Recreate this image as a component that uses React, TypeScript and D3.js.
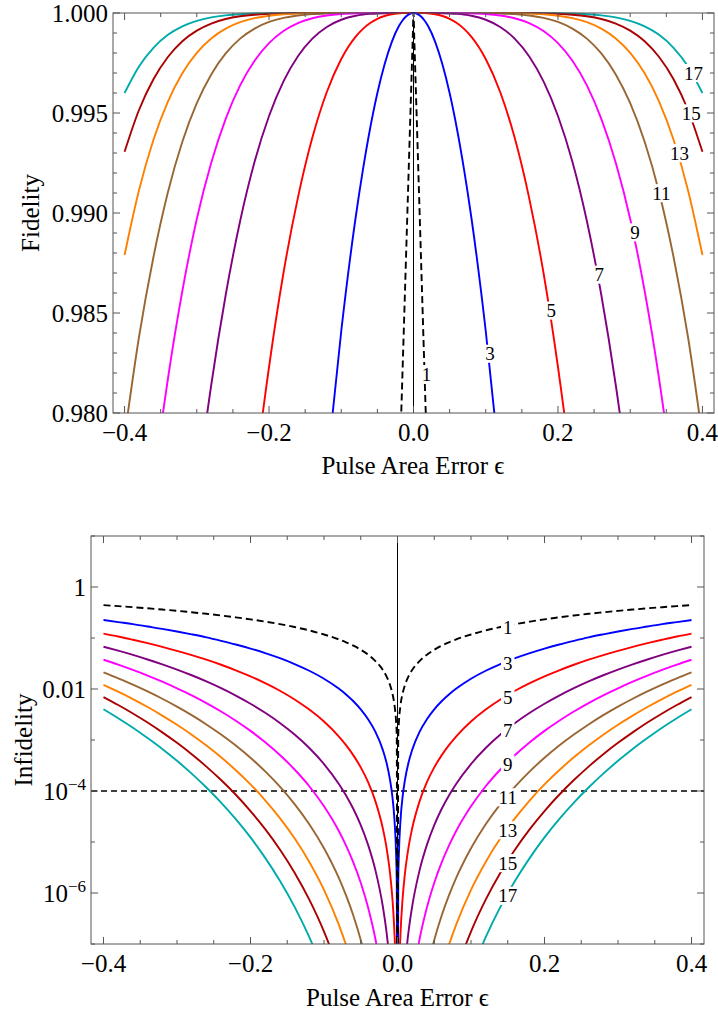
import React from 'react';
import * as d3 from 'd3';

// pulse area error grid (positive half, curves are symmetric in epsilon)
const epsilon = [0, 0.001, 0.002, 0.004, 0.007, 0.01, 0.015, 0.02, 0.03, 0.04, 0.05, 0.06, 0.07, 0.08,
  0.10, 0.12, 0.14, 0.16, 0.18, 0.20, 0.22, 0.24, 0.26, 0.28, 0.30, 0.32, 0.34, 0.36, 0.38, 0.40];

// infidelity 1 - F, one array per sequence length N
const infid1 = [0, 1.18e-3, 2.36e-3, 4.71e-3, 8.25e-3, 1.18e-2, 1.77e-2, 2.36e-2, 3.53e-2, 4.71e-2, 5.88e-2, 7.06e-2, 8.23e-2, 9.40e-2,
  0.117, 0.141, 0.164, 0.187, 0.209, 0.232, 0.254, 0.276, 0.298, 0.319, 0.341, 0.361, 0.382, 0.402, 0.422, 0.441];
const infid3 = [0, 1.60e-6, 6.42e-6, 2.57e-5, 7.86e-5, 1.60e-4, 3.61e-4, 6.41e-4, 1.44e-3, 2.56e-3, 4.00e-3, 5.76e-3, 7.83e-3, 1.02e-2,
  1.59e-2, 2.28e-2, 3.09e-2, 4.02e-2, 5.06e-2, 6.21e-2, 7.46e-2, 8.81e-2, 0.103, 0.118, 0.134, 0.151, 0.168, 0.187, 0.205, 0.225];
const infid5 = [0, 2.3e-9, 1.86e-8, 1.49e-7, 7.98e-7, 2.33e-6, 7.85e-6, 1.86e-5, 6.27e-5, 1.49e-4, 2.90e-4, 5.00e-4, 7.93e-4, 1.18e-3,
  2.30e-3, 3.95e-3, 6.23e-3, 9.23e-3, 1.30e-2, 1.77e-2, 2.33e-2, 2.99e-2, 3.76e-2, 4.63e-2, 5.61e-2, 6.71e-2, 7.91e-2, 9.23e-2, 0.107, 0.122];
const infid7 = [0, 3.4e-12, 5.5e-11, 8.8e-10, 8.3e-9, 3.44e-8, 1.74e-7, 5.50e-7, 2.78e-6, 8.78e-6, 2.14e-5, 4.43e-5, 8.19e-5, 1.39e-4,
  3.38e-4, 6.97e-4, 1.28e-3, 2.16e-3, 3.42e-3, 5.15e-3, 7.44e-3, 1.04e-2, 1.41e-2, 1.86e-2, 2.40e-2, 3.04e-2, 3.79e-2, 4.66e-2, 5.64e-2, 6.74e-2];
const infid9 = [0, 5.1e-15, 1.6e-13, 5.2e-12, 8.6e-11, 5.1e-10, 3.9e-9, 1.64e-8, 1.24e-7, 5.22e-7, 1.59e-6, 3.95e-6, 8.51e-6, 1.66e-5,
  5.01e-5, 1.24e-4, 2.64e-4, 5.09e-4, 9.04e-4, 1.51e-3, 2.39e-3, 3.62e-3, 5.29e-3, 7.49e-3, 1.03e-2, 1.39e-2, 1.83e-2, 2.36e-2, 3.00e-2, 3.75e-2];
const infid11 = [0, 7.7e-18, 5.0e-16, 3.2e-14, 9.1e-13, 7.7e-12, 8.8e-11, 4.9e-10, 5.63e-9, 3.16e-8, 1.20e-7, 3.58e-7, 8.99e-7, 2.00e-6,
  7.55e-6, 2.23e-5, 5.55e-5, 1.22e-4, 2.43e-4, 4.48e-4, 7.78e-4, 1.28e-3, 2.02e-3, 3.07e-3, 4.51e-3, 6.44e-3, 8.96e-3, 1.22e-2, 1.62e-2, 2.12e-2];
const infid13 = [0, 1.2e-20, 1.5e-18, 1.9e-16, 9.7e-15, 1.2e-13, 2.0e-12, 1.5e-11, 2.57e-10, 1.92e-9, 9.15e-9, 3.27e-8, 9.58e-8, 2.43e-7,
  1.15e-6, 4.06e-6, 1.18e-5, 2.94e-5, 6.58e-5, 1.35e-4, 2.56e-4, 4.58e-4, 7.79e-4, 1.27e-3, 1.99e-3, 3.01e-3, 4.43e-3, 6.34e-3, 8.86e-3, 1.21e-2];
const infid15 = [0, 1.8e-23, 4.6e-21, 1.2e-18, 1.0e-16, 1.8e-15, 4.6e-14, 4.6e-13, 1.18e-11, 1.18e-10, 6.99e-10, 3.00e-9, 1.02e-8, 2.97e-8,
  1.75e-7, 7.40e-7, 2.50e-6, 7.13e-6, 1.79e-5, 4.05e-5, 8.44e-5, 1.64e-4, 3.01e-4, 5.26e-4, 8.79e-4, 1.41e-3, 2.20e-3, 3.31e-3, 4.85e-3, 6.94e-3];
const infid17 = [0, 2.8e-26, 1.4e-23, 7.3e-21, 1.1e-18, 2.8e-17, 1.1e-15, 1.4e-14, 5.5e-13, 7.2e-12, 5.37e-11, 2.76e-10, 1.10e-9, 3.64e-9,
  2.68e-8, 1.36e-7, 5.34e-7, 1.74e-6, 4.89e-6, 1.23e-5, 2.80e-5, 5.92e-5, 1.17e-4, 2.19e-4, 3.91e-4, 6.67e-4, 1.09e-3, 1.74e-3, 2.67e-3, 4.00e-3];

const pulseCounts = [1, 3, 5, 7, 9, 11, 13, 15, 17];
const infidelities = [infid1, infid3, infid5, infid7, infid9, infid11, infid13, infid15, infid17];
const curveColors = ['#000000', '#0000ff', '#ff0000', '#800080', '#ff00ff', '#996633', '#ff8000', '#aa0000', '#00aaaa'];

const xTickValues = [-0.4, -0.2, 0, 0.2, 0.4];
const xTickLabels = ['\u22120.4', '\u22120.2', '0.0', '0.2', '0.4'];
const fidTickValues = [0.98, 0.985, 0.99, 0.995, 1.0];
const fidTickLabels = ['0.980', '0.985', '0.990', '0.995', '1.000'];
const infTickExp = [0, -2, -4, -6];

// where the N labels sit along each curve (epsilon)
const topLabelEps = [0.0153, 0.1033, 0.188, 0.2545, 0.3037, 0.3403, 0.3653, 0.3816, 0.385];
const bottomLabelEps = 0.15;

const W = 718, H = 1016;
const FONT = '"Liberation Serif", "Times New Roman", serif';

// mirror the half curve to the negative side
const fullEps = [...epsilon.slice(1).reverse().map(e => -e), ...epsilon];
const mirror = (arr: number[]) => [...arr.slice(1).reverse(), ...arr];

const series = pulseCounts.map((n, i) => ({
  n,
  color: curveColors[i],
  points: fullEps.map((e, j) => ({ e, v: mirror(infidelities[i])[j] })),
}));

const interp = (xs: number[], ys: number[], x: number) => {
  const j = d3.bisectLeft(xs, x);
  if (j <= 0) return ys[0];
  if (j >= xs.length) return ys[ys.length - 1];
  const t = (x - xs[j - 1]) / (xs[j] - xs[j - 1]);
  return ys[j - 1] + t * (ys[j] - ys[j - 1]);
};

const App = () => {
  // ---- top panel: fidelity
  const tx = d3.scaleLinear().domain([-0.416, 0.416]).range([113, 714]);
  const ty = d3.scaleLinear().domain([0.98, 1.0]).range([413, 13]);
  // ---- bottom panel: infidelity (log)
  const bx = d3.scaleLinear().domain([-0.417, 0.417]).range([91, 704]);
  const by = d3.scaleLog().domain([1e-7, 10]).range([944, 536]);

  const topLine = d3.line<{ e: number; v: number }>()
    .x(d => tx(d.e)).y(d => ty(1 - d.v)).curve(d3.curveMonotoneX);
  const botLine = d3.line<{ e: number; v: number }>()
    .x(d => bx(d.e)).y(d => by(Math.max(d.v, 1e-12))).curve(d3.curveMonotoneX);

  const drawOrder = [...series].reverse();
  const minorX = d3.range(-0.4, 0.4001, 0.05);
  const minorFid = d3.range(0.98, 1.0001, 0.001);
  const decades = d3.range(-7, 2);

  const frame = '#555';
  const tickFont = 25;
  const labelFont = 19;

  const curveLabel = (key: string, x: number, y: number, text: string) => {
    const w = text.length * labelFont * 0.5 + 4;
    const h = labelFont * 0.95;
    return (
      <g key={key}>
        <rect x={x - w / 2} y={y - h / 2} width={w} height={h} fill="#fff" />
        <text x={x} y={y} dy="0.34em" textAnchor="middle" fontSize={labelFont} fontFamily={FONT} fill="#000">{text}</text>
      </g>
    );
  };

  return (
    <svg width={W} height={H} style={{ position: 'absolute', left: 0, top: 0, background: '#fff' }}>
      <defs>
        <clipPath id="clipTop"><rect x={113} y={10} width={601} height={403} /></clipPath>
        <clipPath id="clipBot"><rect x={91} y={536} width={613} height={408} /></clipPath>
      </defs>

      {/* ===== top panel ===== */}
      <g clipPath="url(#clipTop)">
        <line x1={tx(0)} x2={tx(0)} y1={13} y2={413} stroke="#000" strokeWidth={1} />
        {drawOrder.map(s => (
          <path key={'t' + s.n} d={topLine(s.points) || ''} fill="none" stroke={s.color}
            strokeWidth={s.n === 1 ? 1.9 : 1.9} strokeDasharray={s.n === 1 ? '7,4' : undefined} />
        ))}
      </g>
      {series.map((s, i) => {
        const e = topLabelEps[i];
        const v = interp(epsilon, infidelities[i], e);
        return curveLabel('tl' + s.n, tx(e) + 2, ty(1 - v), String(s.n));
      })}
      <rect x={113} y={13} width={601} height={400} fill="none" stroke={frame} strokeWidth={1} />
      {minorX.map(v => {
        const major = xTickValues.some(t => Math.abs(t - v) < 1e-6);
        const len = major ? 7 : 4;
        return (
          <g key={'tx' + v.toFixed(2)}>
            <line x1={tx(v)} x2={tx(v)} y1={413} y2={413 - len} stroke={frame} />
            <line x1={tx(v)} x2={tx(v)} y1={13} y2={13 + len} stroke={frame} />
          </g>
        );
      })}
      {minorFid.map(v => {
        const major = fidTickValues.some(t => Math.abs(t - v) < 1e-6);
        const len = major ? 7 : 4;
        return (
          <g key={'ty' + v.toFixed(3)}>
            <line x1={113} x2={113 + len} y1={ty(v)} y2={ty(v)} stroke={frame} />
            <line x1={714} x2={714 - len} y1={ty(v)} y2={ty(v)} stroke={frame} />
          </g>
        );
      })}
      {xTickValues.map((v, i) => (
        <text key={'txl' + i} x={tx(v)} y={441} textAnchor="middle" fontSize={tickFont} fontFamily={FONT}>{xTickLabels[i]}</text>
      ))}
      {fidTickValues.map((v, i) => (
        <text key={'tyl' + i} x={108} y={ty(v)} dy="0.34em" textAnchor="end" fontSize={tickFont} fontFamily={FONT}>{fidTickLabels[i]}</text>
      ))}
      <text x={413} y={474} textAnchor="middle" fontSize={tickFont} fontFamily={FONT}>Pulse Area Error ϵ</text>
      <text transform="translate(39,213) rotate(-90)" textAnchor="middle" fontSize={tickFont} fontFamily={FONT}>Fidelity</text>

      {/* ===== bottom panel ===== */}
      <g clipPath="url(#clipBot)">
        <line x1={bx(0)} x2={bx(0)} y1={536} y2={944} stroke="#000" strokeWidth={1} />
        <line x1={91} x2={704} y1={by(1e-4)} y2={by(1e-4)} stroke="#000" strokeWidth={1.3} strokeDasharray="6,4" />
        {drawOrder.map(s => (
          <path key={'b' + s.n} d={botLine(s.points) || ''} fill="none" stroke={s.color}
            strokeWidth={1.9} strokeDasharray={s.n === 1 ? '7,4' : undefined} />
        ))}
      </g>
      {series.map((s, i) => {
        const logs = infidelities[i].map(v => Math.log10(Math.max(v, 1e-30)));
        const lv = interp(epsilon, logs, bottomLabelEps);
        return curveLabel('bl' + s.n, bx(bottomLabelEps), by(Math.pow(10, lv)) + 2, String(s.n));
      })}
      <rect x={91} y={536} width={613} height={408} fill="none" stroke={frame} strokeWidth={1} />
      {minorX.map(v => {
        const major = xTickValues.some(t => Math.abs(t - v) < 1e-6);
        const len = major ? 7 : 4;
        return (
          <g key={'bx' + v.toFixed(2)}>
            <line x1={bx(v)} x2={bx(v)} y1={944} y2={944 - len} stroke={frame} />
            <line x1={bx(v)} x2={bx(v)} y1={536} y2={536 + len} stroke={frame} />
          </g>
        );
      })}
      {decades.map(p => {
        const major = infTickExp.includes(p);
        const len = major ? 7 : 4;
        const y = by(Math.pow(10, p));
        return (
          <g key={'by' + p}>
            <line x1={91} x2={91 + len} y1={y} y2={y} stroke={frame} />
            <line x1={704} x2={704 - len} y1={y} y2={y} stroke={frame} />
          </g>
        );
      })}
      {xTickValues.map((v, i) => (
        <text key={'bxl' + i} x={bx(v)} y={972} textAnchor="middle" fontSize={tickFont} fontFamily={FONT}>{xTickLabels[i]}</text>
      ))}
      {infTickExp.map(p => {
        const y = by(Math.pow(10, p));
        if (p === 0) return <text key="bl0" x={86} y={y} dy="0.34em" textAnchor="end" fontSize={tickFont} fontFamily={FONT}>1</text>;
        if (p === -2) return <text key="bl2" x={86} y={y} dy="0.34em" textAnchor="end" fontSize={tickFont} fontFamily={FONT}>0.01</text>;
        return (
          <text key={'blp' + p} x={86} y={y} dy="0.34em" textAnchor="end" fontSize={tickFont} fontFamily={FONT}>
            10<tspan fontSize={17} dy={-10}>{'\u2212' + Math.abs(p)}</tspan>
          </text>
        );
      })}
      <text x={397.5} y={1006} textAnchor="middle" fontSize={tickFont} fontFamily={FONT}>Pulse Area Error ϵ</text>
      <text transform="translate(32,740) rotate(-90)" textAnchor="middle" fontSize={tickFont} fontFamily={FONT}>Infidelity</text>
    </svg>
  );
};

export default App;
